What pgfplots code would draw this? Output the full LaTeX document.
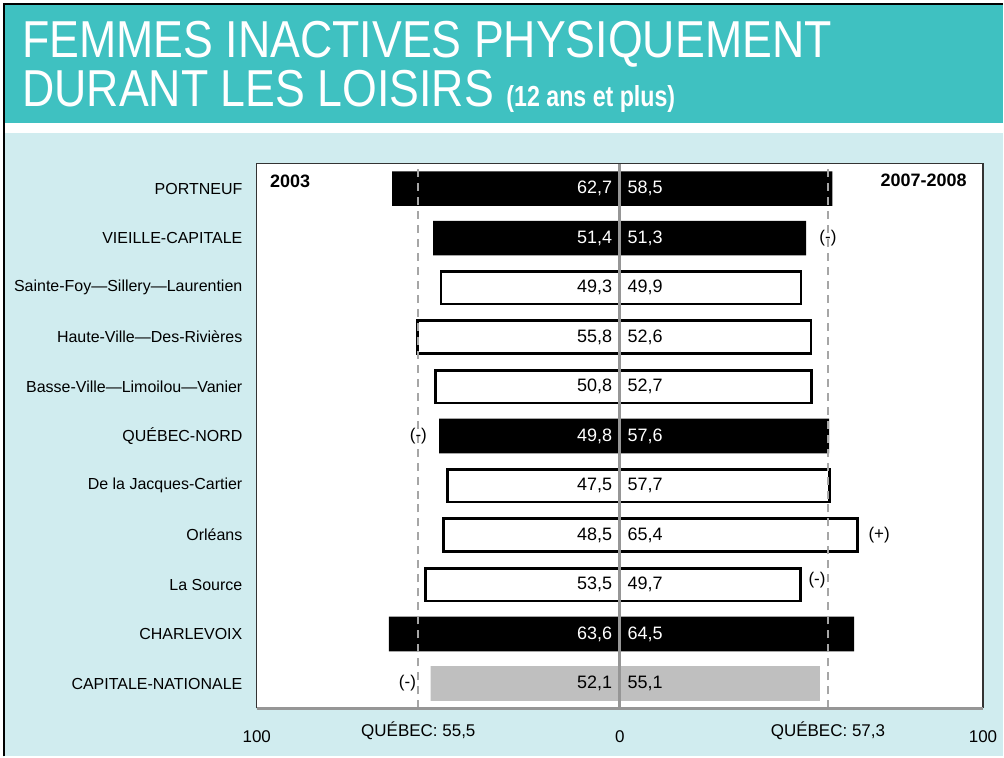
\documentclass[border=0pt]{standalone}
\usepackage{fontspec}
\setmainfont{Liberation Sans}
\newfontfamily\titlefont[FakeStretch=0.86]{Liberation Sans}
\newfontfamily\subtitlefont[FakeStretch=0.80]{Liberation Sans}
\usepackage{pgfplots}
\pgfplotsset{compat=1.18}
\definecolor{teal1}{HTML}{3FC1C1}
\definecolor{cyanbg}{HTML}{D0ECEF}
\definecolor{barGray}{HTML}{BFBFBF}
\definecolor{refGray}{HTML}{A6A6A6}
\definecolor{axGray}{HTML}{969696}
\begin{document}
\begin{tikzpicture}
\begin{scope}[x=0.5pt,y=-0.5pt]
\fill[white] (0,0) rectangle (1004,757);
\fill[teal1] (5,5) rectangle (1004,123);
\fill[cyanbg] (5,133) rectangle (1004,757);
\draw[black, line width=1pt] (4,757) -- (4,4) -- (1004,4);
\node[anchor=base west, inner sep=0pt, text=white, font=\titlefont\fontsize{26}{30}\selectfont] at (22,58) {FEMMES INACTIVES PHYSIQUEMENT};
\node[anchor=base west, inner sep=0pt, text=white, font=\titlefont\fontsize{26}{30}\selectfont] at (22,107) {DURANT LES LOISIRS {\subtitlefont\fontsize{14.5}{16}\selectfont\bfseries (12 ans et plus)}};
\end{scope}
\begin{axis}[at={(128.5pt,-354.5pt)}, anchor=south west,
  width=363.5pt, height=272.5pt, scale only axis, clip=false,
  xmin=-100, xmax=100, ymin=-0.5, ymax=10.5,
  axis line style={draw=none},
  axis background/.style={fill=white},
  major tick length=0pt,
  ytick={0,...,10},
  yticklabels={CAPITALE-NATIONALE, CHARLEVOIX, La Source, Orléans, De la Jacques-Cartier, QUÉBEC-NORD, Basse-Ville—Limoilou—Vanier, Haute-Ville—Des-Rivières, Sainte-Foy—Sillery—Laurentien, VIEILLE-CAPITALE, PORTNEUF},
  yticklabel style={font=\fontsize{8}{9}\selectfont, anchor=east, inner sep=0pt, xshift=-7pt},
  xtick={-100,0,100}, xticklabels={100,0,100},
  xticklabel style={font=\fontsize{8.5}{10}\selectfont, anchor=north, inner sep=0pt, yshift=-11pt},
  extra x ticks={-55.5,57.3},
  extra x tick labels={{QUÉBEC: 55,5},{QUÉBEC: 57,3}},
  extra x tick style={xticklabel style={yshift=4.5pt}},
  ]
% black bars
\addplot[xbar, bar width=0.70, bar shift=0pt, fill=black, draw=none]
  coordinates {(-62.7,10) (58.5,10) (-51.4,9) (51.3,9) (-49.8,5) (57.6,5) (-63.6,1) (64.5,1)};
% white outlined bars
\addplot[xbar, bar width=0.66, bar shift=0pt, fill=white, draw=black, line width=1.3pt]
  coordinates {(-49.3,8) (49.9,8) (-55.8,7) (52.6,7) (-50.8,6) (52.7,6) (-47.5,4) (57.7,4) (-48.5,3) (65.4,3) (-53.5,2) (49.7,2)};
% gray bar
\addplot[xbar, bar width=0.70, bar shift=0pt, fill=barGray, draw=none]
  coordinates {(-52.1,0) (55.1,0)};
% center line
\addplot[axGray, line width=1.5pt] coordinates {(0,-0.5) (0,10.5)};
% Quebec reference lines
\addplot[refGray, line width=1pt, dash pattern=on 4pt off 3pt] coordinates {(-55.5,-0.5) (-55.5,10.5)};
\addplot[refGray, line width=1pt, dash pattern=on 4pt off 3pt] coordinates {(57.3,-0.5) (57.3,10.5)};
% value labels
\addplot[draw=none, nodes near coords, point meta=explicit symbolic,
  every node near coord/.append style={anchor=east, inner sep=0pt, text=white, font=\fontsize{9}{10}\selectfont}]
  table[meta=lab] {
x y lab
-2 10 62,7
-2 9 51,4
-2 5 49,8
-2 1 63,6
};
\addplot[draw=none, nodes near coords, point meta=explicit symbolic,
  every node near coord/.append style={anchor=west, inner sep=0pt, text=white, font=\fontsize{9}{10}\selectfont}]
  table[meta=lab] {
x y lab
2 10 58,5
2 9 51,3
2 5 57,6
2 1 64,5
};
\addplot[draw=none, nodes near coords, point meta=explicit symbolic,
  every node near coord/.append style={anchor=east, inner sep=0pt, text=black, font=\fontsize{9}{10}\selectfont}]
  table[meta=lab] {
x y lab
-2 8 49,3
-2 7 55,8
-2 6 50,8
-2 4 47,5
-2 3 48,5
-2 2 53,5
-2 0 52,1
};
\addplot[draw=none, nodes near coords, point meta=explicit symbolic,
  every node near coord/.append style={anchor=west, inner sep=0pt, text=black, font=\fontsize{9}{10}\selectfont}]
  table[meta=lab] {
x y lab
2 8 49,9
2 7 52,6
2 6 52,7
2 4 57,7
2 3 65,4
2 2 49,7
2 0 55,1
};
% significance marks
\addplot[draw=none, nodes near coords, point meta=explicit symbolic,
  every node near coord/.append style={anchor=center, inner sep=0pt, text=black, font=\fontsize{8.5}{10}\selectfont}]
  table[meta=lab] {
x y lab
57.3 9 (-)
-55.5 5 (-)
71.4 3 (+)
54.3 2.1 (-)
-58.5 0 (-)
};
% frame
\draw[black!80, line width=0.6pt] (axis cs:-100,-0.5) -- (axis cs:-100,10.5) -- (axis cs:100,10.5) -- (axis cs:100,-0.5);
\draw[axGray, line width=1.5pt] (axis cs:-100,-0.5) -- (axis cs:100,-0.5);
\node[anchor=north west, inner sep=0pt, font=\bfseries\fontsize{9}{11}\selectfont, xshift=6.5pt, yshift=-5.5pt] at (rel axis cs:0,1) {2003};
\node[anchor=north east, inner sep=0pt, font=\bfseries\fontsize{9}{11}\selectfont, xshift=-8pt, yshift=-5pt] at (rel axis cs:1,1) {2007-2008};
\end{axis}
\end{tikzpicture}
\end{document}
